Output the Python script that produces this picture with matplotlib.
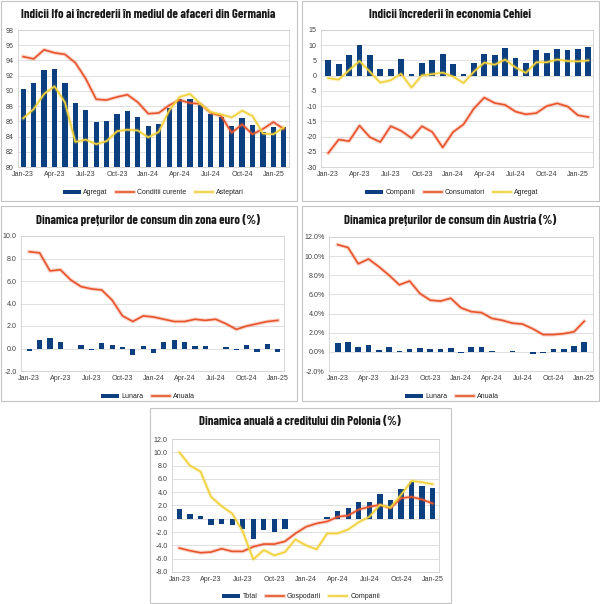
import matplotlib.pyplot as plt
import matplotlib.patheffects as pe
from matplotlib.patches import Rectangle
from matplotlib.ticker import FormatStrFormatter
import numpy as np

W, H = 600, 604

tick_labels = ['Jan-23', 'Apr-23', 'Jul-23', 'Oct-23', 'Jan-24',
               'Apr-24', 'Jul-24', 'Oct-24', 'Jan-25']

# Germania - Ifo (Jan-23 .. Feb-25)
ifo_agregat = [90.3, 91.0, 92.7, 92.9, 91.0, 88.4, 87.5, 85.9, 86.1, 87.0, 87.3, 86.6, 85.4,
               85.7, 87.7, 89.0, 89.0, 88.2, 86.9, 86.6, 85.4, 86.5, 85.5, 84.6, 85.2, 85.2]
ifo_conditii = [94.5, 94.2, 95.4, 95.0, 94.8, 93.7, 91.6, 88.9, 88.8, 89.2, 89.5, 88.5, 87.0,
                87.1, 88.1, 88.8, 88.4, 88.3, 87.1, 86.7, 84.5, 85.6, 84.3, 85.0, 85.9, 85.0]
ifo_asteptari = [86.4, 87.6, 89.6, 90.6, 88.5, 83.3, 83.6, 83.0, 83.4, 84.7, 84.9, 84.8, 83.9,
                 84.6, 87.4, 89.2, 89.6, 88.3, 87.2, 86.9, 86.5, 87.4, 86.7, 84.4, 84.3, 85.2]

# Cehia (Jan-23 .. Feb-25)
cz_companii = [5.1, 3.7, 6.9, 10.2, 6.9, 2.2, 2.2, 5.5, 0.5, 4.2, 5.1, 7.0, 3.7,
               0.6, 4.1, 7.1, 6.9, 9.0, 5.8, 4.1, 8.4, 7.4, 8.8, 8.5, 8.8, 9.4]
cz_consumatori = [-25.4, -21.0, -21.5, -16.4, -20.2, -21.8, -16.6, -18.1, -20.5, -16.6, -18.5, -23.6, -18.5,
                  -16.0, -10.8, -7.2, -9.0, -9.6, -11.8, -12.7, -12.3, -10.0, -9.1, -10.1, -13.0, -13.6]
cz_agregat = [-0.8, -1.3, 1.8, 4.8, 1.3, -2.3, -1.5, 0.6, -3.9, 0.1, 0.5, 1.0, -0.3,
              -2.4, 1.3, 4.3, 3.6, 5.3, 2.7, 0.9, 4.4, 4.4, 5.3, 4.8, 4.7, 5.0]

# Zona euro (Jan-23 .. Jan-25)
ez_lunara = [-0.2, 0.8, 0.9, 0.6, 0.0, 0.3, -0.1, 0.5, 0.3, 0.1, -0.6, 0.2, -0.4,
             0.6, 0.8, 0.6, 0.2, 0.2, 0.0, 0.1, -0.1, 0.3, -0.3, 0.4, -0.3]
ez_anuala = [8.6, 8.5, 6.9, 7.0, 6.1, 5.5, 5.3, 5.2, 4.3, 2.9, 2.4, 2.9, 2.8,
             2.6, 2.4, 2.4, 2.6, 2.5, 2.6, 2.2, 1.7, 2.0, 2.2, 2.4, 2.5]

# Austria (Jan-23 .. Jan-25)
at_lunara = [0.9, 1.0, 0.5, 0.7, 0.2, 0.5, 0.05, 0.3, 0.4, 0.3, 0.3, 0.4, -0.1,
             0.5, 0.5, 0.05, 0.0, 0.1, 0.0, -0.2, -0.1, 0.3, 0.3, 0.6, 1.0]
at_anuala = [11.2, 10.9, 9.2, 9.7, 8.9, 8.0, 7.0, 7.4, 6.1, 5.4, 5.3, 5.6, 4.6,
             4.2, 4.1, 3.5, 3.3, 3.0, 2.9, 2.4, 1.8, 1.8, 1.9, 2.1, 3.2]

# Polonia - credit (Jan-23 .. Jan-25)
pl_total = [1.5, 0.7, 0.4, -0.9, -0.8, -1.0, -1.6, -3.1, -1.7, -2.0, -1.5, -0.1, 0.0,
            -0.1, 0.2, 1.1, 1.6, 2.6, 2.5, 3.7, 2.8, 4.5, 5.6, 4.9, 4.6]
pl_gospodarii = [-4.4, -4.8, -5.1, -5.0, -4.5, -4.9, -4.9, -4.2, -3.8, -3.8, -3.4, -2.2, -1.2,
                 -0.7, -0.4, 0.3, 0.5, 1.4, 1.8, 2.1, 1.6, 3.1, 3.3, 2.9, 2.3]
pl_companii = [10.0, 8.0, 7.1, 3.3, 1.9, 0.8, -1.9, -6.1, -4.7, -5.5, -5.0, -3.1, -4.0,
               -4.6, -2.2, -2.2, -1.6, -0.5, 0.3, 2.1, 1.7, 3.6, 5.7, 5.5, 5.2]

BLUE = '#0c3f7f'
RED = '#e8542b'
YELLOW = '#f2d13b'
TITLE_FONT = ['Barlow Condensed', 'DejaVu Sans']
plt.rcParams['font.family'] = ['Liberation Sans', 'DejaVu Sans']

fig = plt.figure(figsize=(6, 6.04), dpi=100)


def px_axes(left, top, right, bottom):
    return fig.add_axes([left / W, 1 - bottom / H, (right - left) / W, (bottom - top) / H])


def frame(left, top, right, bottom):
    fig.patches.append(Rectangle((left / W, 1 - bottom / H), (right - left) / W, (bottom - top) / H,
                                 transform=fig.transFigure, fill=False,
                                 edgecolor='#c4c4c4', lw=0.8))


def title(x, y, text):
    fig.text(x / W, 1 - y / H, text, ha='center', va='center', fontsize=9.1,
             fontweight='bold', family=TITLE_FONT, color='#1a1a1a')


def style(ax, ylim, step, fmt, xlim):
    ax.set_ylim(*ylim)
    ax.set_yticks(np.arange(ylim[0], ylim[1] + step / 2, step))
    ax.yaxis.set_major_formatter(FormatStrFormatter(fmt))
    ax.set_xticks(range(0, 25, 3))
    ax.set_xticklabels(tick_labels)
    ax.set_xlim(*xlim)
    ax.grid(axis='y', color='#dadada', lw=0.6)
    ax.set_axisbelow(True)
    for s in ax.spines.values():
        s.set_color('#d0d0d0')
        s.set_linewidth(0.6)
    ax.tick_params(length=0, labelsize=5.1, colors='#404040', pad=3)


def line(ax, y, color, label):
    return ax.plot(range(len(y)), y, color=color, lw=1.2, label=label,
                   path_effects=[pe.Stroke(linewidth=2.8, foreground=color, alpha=0.25),
                                 pe.Normal()])[0]


def legend(ax, handles, x, y):
    ax.legend(handles=handles, loc='center', bbox_to_anchor=(x / W, 1 - y / H),
              bbox_transform=fig.transFigure, ncol=3, frameon=False, fontsize=5.0,
              handlelength=2.6, handleheight=0.6, columnspacing=1.2, handletextpad=0.4,
              labelcolor='#222222')


# panel 1
frame(1, 1, 297, 201)
title(148, 14, 'Indicii Ifo ai încrederii în mediul de afaceri din Germania')
ax = px_axes(18, 30, 289, 167)
x = np.arange(len(ifo_agregat))
b = ax.bar(x, np.array(ifo_agregat) - 80, bottom=80, width=0.5, color=BLUE, label='Agregat')
l1 = line(ax, ifo_conditii, RED, 'Conditii curente')
l2 = line(ax, ifo_asteptari, YELLOW, 'Asteptari')
style(ax, (80, 98), 2, '%d', (-0.5, 25.5))
legend(ax, [b, l1, l2], 153, 193)

# panel 2
frame(302, 1, 599, 201)
title(450, 14, 'Indicii încrederii în economia Cehiei')
ax = px_axes(321, 30, 593, 167)
x = np.arange(len(cz_companii))
b = ax.bar(x, cz_companii, width=0.55, color=BLUE, label='Companii')
l1 = line(ax, cz_consumatori, RED, 'Consumatori')
l2 = line(ax, cz_agregat, YELLOW, 'Agregat')
style(ax, (-30, 15), 5, '%d', (-0.7, 25.45))
legend(ax, [b, l1, l2], 452, 193)

# panel 3
frame(1, 206, 297, 401)
title(148, 220, 'Dinamica prețurilor de consum din zona euro (%)')
ax = px_axes(21, 236, 284, 371)
x = np.arange(len(ez_lunara))
b = ax.bar(x, ez_lunara, width=0.5, color=BLUE, label='Lunara')
l1 = line(ax, ez_anuala, RED, 'Anuala')
style(ax, (-2, 10), 2, '%.1f', (-0.8, 24.6))
legend(ax, [b, l1], 148, 397)

# panel 4
frame(302, 206, 599, 401)
title(450, 220, 'Dinamica prețurilor de consum din Austria (%)')
ax = px_axes(329, 237, 593, 371)
x = np.arange(len(at_lunara))
b = ax.bar(x, at_lunara, width=0.55, color=BLUE, label='Lunara')
l1 = line(ax, at_anuala, RED, 'Anuala')
style(ax, (-2, 12), 2, '%.1f%%', (-0.85, 24.85))
legend(ax, [b, l1], 452, 397)

# panel 5
frame(150, 408, 451, 603)
title(300, 422, 'Dinamica anuală a creditului din Polonia (%)')
ax = px_axes(172, 439, 439, 572)
x = np.arange(len(pl_total))
b = ax.bar(x, pl_total, width=0.5, color=BLUE, label='Total')
l1 = line(ax, pl_gospodarii, RED, 'Gospodarii')
l2 = line(ax, pl_companii, YELLOW, 'Companii')
style(ax, (-8, 12), 2, '%.1f', (-0.7, 24.6))
legend(ax, [b, l1, l2], 301, 597)

fig.savefig('out.png', dpi=100, facecolor='white')
